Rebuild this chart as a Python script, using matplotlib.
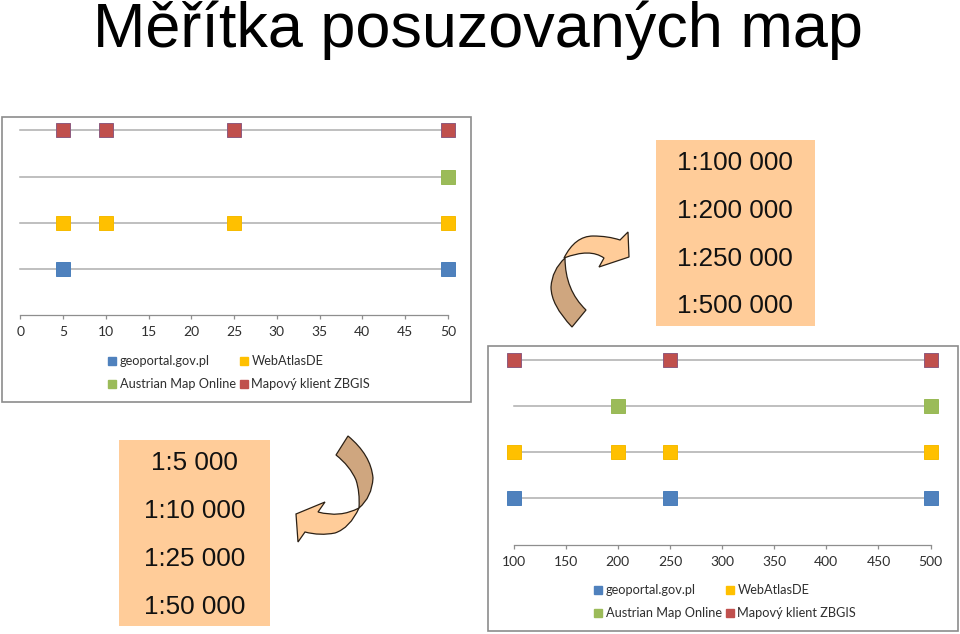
import matplotlib
matplotlib.use('Agg')
import matplotlib.pyplot as plt
from matplotlib.lines import Line2D
from matplotlib.patches import PathPatch, Rectangle
from matplotlib.path import Path

W, H = 960, 634

series_names = ['geoportal.gov.pl', 'WebAtlasDE', 'Austrian Map Online', 'Mapový klient ZBGIS']
series_colors = ['#4F81BD', '#FFC000', '#9BBB59', '#C0504D']
series_edges = ['#4A7EBB', '#F5BA00', '#98B954', '#8E5A7E']

# meritka v tisicich
small_geoportal = [5, 50]
small_webatlas = [5, 10, 25, 50]
small_austrian = [50]
small_zbgis = [5, 10, 25, 50]
small_ticks = [0, 5, 10, 15, 20, 25, 30, 35, 40, 45, 50]

large_geoportal = [100, 250, 500]
large_webatlas = [100, 200, 250, 500]
large_austrian = [200, 500]
large_zbgis = [100, 250, 500]
large_ticks = [100, 150, 200, 250, 300, 350, 400, 450, 500]

small_scales = ['1:5 000', '1:10 000', '1:25 000', '1:50 000']
large_scales = ['1:100 000', '1:200 000', '1:250 000', '1:500 000']


def chart(fig, bg, frame, plot_box, legend_xy, series, ticks):
    # ramecek obrazku s grafem
    x0, y0, x1, y1 = frame
    bg.add_patch(Rectangle((x0, y0), x1 - x0, y1 - y0, fc='white', ec='#8C8C8C', lw=1.2))

    left, top, right, bottom = plot_box
    ax = fig.add_axes([left / W, 1 - bottom / H, (right - left) / W, (bottom - top) / H])
    ax.patch.set_alpha(0)
    ax.set_xlim(ticks[0], ticks[-1])
    ax.set_ylim(0, 4)
    for row, values in enumerate(series):
        y = row + 1
        ax.plot([ticks[0], ticks[-1]], [y, y], color='#ADADAD', lw=1.1, zorder=2, clip_on=False)
        ax.plot(values, [y] * len(values), ls='none', marker='s', ms=10.6, mfc=series_colors[row],
                mec=series_edges[row], mew=0.7, zorder=3, clip_on=False)
    for side in ['top', 'left', 'right']:
        ax.spines[side].set_visible(False)
    ax.spines['bottom'].set_color('#8E8E8E')
    ax.spines['bottom'].set_linewidth(0.9)
    ax.set_yticks([])
    ax.set_xticks(ticks)
    ax.tick_params(axis='x', length=3, width=0.9, color='#8E8E8E', labelcolor='#2F2F2F',
                   labelsize=10, pad=5)
    for label in ax.get_xticklabels():
        label.set_family('Lato')

    handles = [Line2D([], [], ls='none', marker='s', ms=6, color=c) for c in series_colors]
    order = [0, 2, 1, 3]
    ax.legend([handles[i] for i in order], [series_names[i] for i in order], ncols=2, frameon=False,
              loc='upper left', bbox_to_anchor=legend_xy, bbox_transform=bg.transData,
              prop={'family': 'Lato', 'size': 9.2}, borderpad=0, borderaxespad=0, labelspacing=0.88,
              handlelength=0.7, handletextpad=0.2, columnspacing=0.35, labelcolor='#2F2F2F')


def scale_box(bg, box, labels, centers):
    x0, y0, x1, y1 = box
    bg.add_patch(Rectangle((x0, y0), x1 - x0, y1 - y0, fc='#FFCC99', ec='none'))
    for label, y in zip(labels, centers):
        bg.text((x0 + x1) / 2, y, label, ha='center', va='center', fontsize=18.7, color='#111111',
                family='Liberation Sans')


def shape(bg, start, segments, color):
    verts = [start]
    codes = [Path.MOVETO]
    for seg in segments:
        if len(seg) == 2:
            verts.append(seg)
            codes.append(Path.LINETO)
        else:
            verts += [seg[:2], seg[2:]]
            codes += [Path.CURVE3, Path.CURVE3]
    verts.append(start)
    codes.append(Path.CLOSEPOLY)
    bg.add_patch(PathPatch(Path(verts, codes), fc=color, ec='#2B2015', lw=0.9, joinstyle='miter'))


fig = plt.figure(figsize=(W / 100, H / 100), dpi=100)
bg = fig.add_axes([0, 0, 1, 1])
bg.set_xlim(0, W)
bg.set_ylim(H, 0)
bg.axis('off')

bg.text(93, 47.5, 'Měřítka posuzovaných map', fontsize=45.4, color='#000000', family='Liberation Sans',
        ha='left', va='baseline')

chart(fig, bg, (2, 117, 471, 402), (20.3, 130.5, 447.8, 315.2), (108, 355),
      [small_geoportal, small_webatlas, small_austrian, small_zbgis], small_ticks)
chart(fig, bg, (488, 346, 958, 631), (513.6, 359.5, 930.6, 544.5), (594, 584),
      [large_geoportal, large_webatlas, large_austrian, large_zbgis], large_ticks)

scale_box(bg, (655.7, 140, 815, 325.7), large_scales, [163.5, 211, 258.5, 306])
scale_box(bg, (119, 440, 270, 626), small_scales, [463.5, 511, 558.5, 606.5])

# horni sipka
shape(bg, (565, 258), [(552, 270, 551, 287), (551, 305, 572, 327), (586, 310),
                       (565, 290, 565, 258)], '#CFA67F')
shape(bg, (564, 258), [(575, 236, 593, 236), (608, 236, 620, 240), (628, 232), (629, 257), (599, 267),
                       (604, 258), (590, 248, 564, 258)], '#FFCC99')
# dolni sipka
shape(bg, (348, 436), [(336, 455), (350, 466, 356, 480), (360, 492, 359, 508),
                       (372, 497, 373, 478), (371, 455, 348, 436)], '#CFA67F')
shape(bg, (359, 508), [(340, 518, 318, 512), (325, 502), (296, 514), (298, 542), (305, 532),
                       (320, 536, 335, 533), (350, 528, 359, 508)], '#FFCC99')

plt.savefig('out.png', dpi=100)
plt.close()
